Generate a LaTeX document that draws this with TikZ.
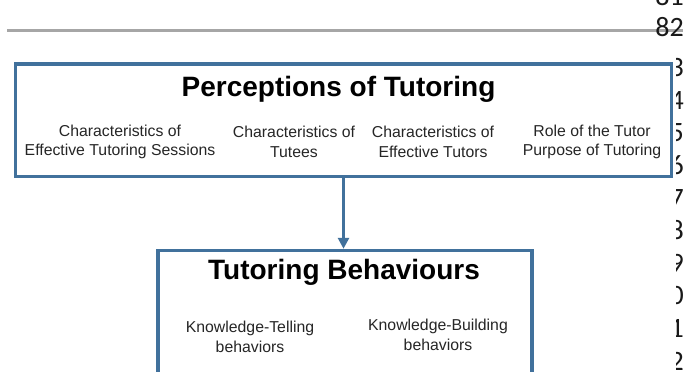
\documentclass[tikz,border=0pt]{standalone}
\usepackage{fontspec}
\setmainfont{Liberation Sans}
\newfontfamily\numfont{Carlito}
\usepackage{tikz}
\usetikzlibrary{arrows.meta,positioning,calc}
\definecolor{BoxBlue}{HTML}{41719C}
\definecolor{RuleGray}{HTML}{A6A6A6}

\begin{document}
\begin{tikzpicture}[x=1pt,y=-1pt,
  frame/.style={draw=BoxBlue,line width=3.5pt,fill=white,inner sep=0pt},
  heading/.style={font=\fontsize{28}{32}\selectfont\bfseries},
  item/.style={align=center,text=black!85,font=\fontsize{15.8}{19.5}\selectfont},
  linenum/.style={anchor=east,inner sep=0pt,font=\numfont\fontsize{28}{30}\selectfont,text=black!90},
  link/.style={BoxBlue,line width=3pt,-{Triangle[width=11pt,length=11pt]}}]
\clip (0,0) rectangle (686,372);
\fill[white] (0,0) rectangle (686,372);
% rule and line numbers in the margin
\draw[RuleGray,line width=3pt] (7,30.5) -- (683,30.5);
\node[linenum] (ln81) at (684,-4) {81};
\node[linenum] (ln82) at (684,27) {82};
\begin{scope}
\clip (676,45) rectangle (686,372);
\foreach \n [count=\i from 0] in {83,...,92}{
  \node[linenum] (ln\n) at (684,{67+32.7*\i}) {\n};
}
\end{scope}
% perceptions
\node[frame,minimum width=656pt,minimum height=112.5pt] (percbox) at (343.5,120.25) {};
\node[heading] (perctitle) at (338.5,89.5) {Perceptions of Tutoring};
\node[item] (sessions) at (120,142) {Characteristics of\\Effective Tutoring Sessions};
\node[item] (tutees) at (294,142) {Characteristics of\\Tutees};
\node[item] (tutors) at (433,142) {Characteristics of\\Effective Tutors};
\node[item] (role) at (592,142) {Role of the Tutor\\Purpose of Tutoring};
% behaviours
\node[frame,minimum width=374pt,minimum height=160pt] (behbox) at (345,330.5) {};
\node[heading] (behtitle) at (344,272.5) {Tutoring Behaviours};
\node[item] (telling) at (250,337) {Knowledge-Telling\\behaviors};
\node[item] (building) at (438,335) {Knowledge-Building\\behaviors};
\draw[link] (percbox.south) -- (percbox.south |- behbox.north);
\end{tikzpicture}
\end{document}
